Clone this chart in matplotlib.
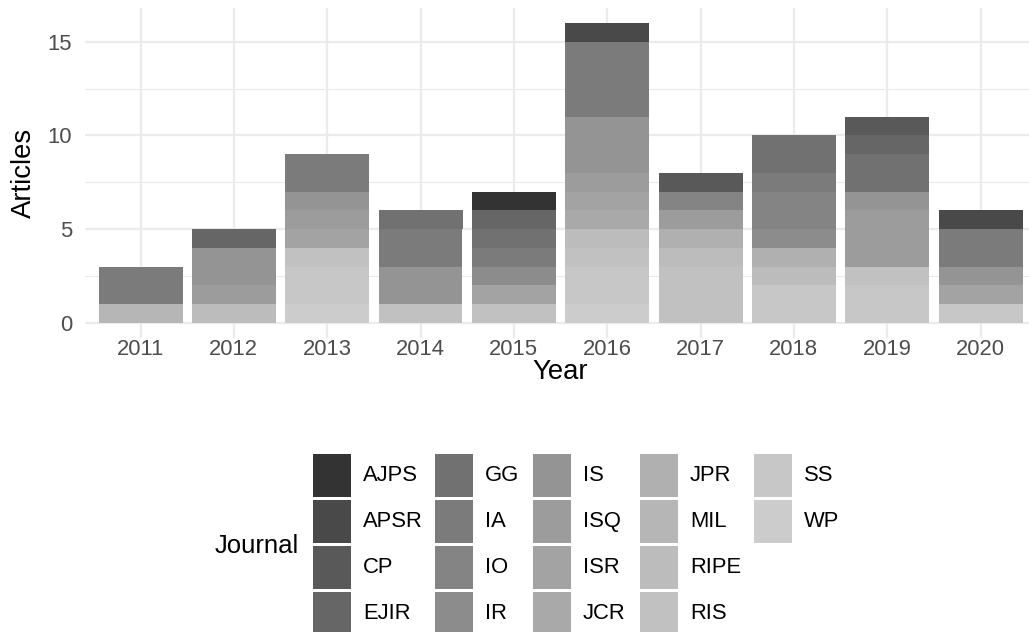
import numpy as np
import matplotlib
matplotlib.use("Agg")
import matplotlib.pyplot as plt
from matplotlib.patches import Rectangle

# ---- data ----
years = ["2011", "2012", "2013", "2014", "2015", "2016", "2017", "2018", "2019", "2020"]
journals = ["AJPS", "APSR", "CP", "EJIR", "GG", "IA", "IO", "IR", "IS", "ISQ",
            "ISR", "JCR", "JPR", "MIL", "RIPE", "RIS", "SS", "WP"]
AJPS = [0, 0, 0, 0, 1, 0, 0, 0, 0, 0]
APSR = [0, 0, 0, 0, 0, 1, 0, 0, 0, 1]
CP   = [0, 0, 0, 0, 0, 0, 1, 0, 1, 0]
EJIR = [0, 1, 0, 0, 1, 0, 0, 0, 1, 0]
GG   = [0, 0, 0, 1, 1, 0, 0, 2, 2, 0]
IA   = [2, 0, 2, 2, 1, 4, 0, 1, 0, 2]
IO   = [0, 0, 0, 0, 0, 0, 1, 2, 0, 0]
IR   = [0, 0, 0, 0, 1, 0, 0, 1, 0, 0]
IS   = [0, 2, 1, 2, 0, 3, 0, 0, 1, 1]
ISQ  = [0, 1, 1, 0, 0, 1, 1, 0, 3, 0]
ISR  = [0, 0, 1, 0, 1, 1, 0, 0, 0, 1]
JCR  = [0, 0, 0, 0, 0, 1, 0, 0, 0, 0]
JPR  = [0, 0, 0, 0, 0, 0, 1, 1, 0, 0]
MIL  = [1, 0, 0, 0, 0, 0, 0, 0, 0, 0]
RIPE = [0, 1, 0, 0, 0, 1, 1, 1, 0, 0]
RIS  = [0, 0, 1, 1, 1, 1, 3, 0, 1, 0]
SS   = [0, 0, 2, 0, 0, 2, 0, 2, 2, 1]
WP   = [0, 0, 1, 0, 0, 1, 0, 0, 0, 0]
counts = [AJPS, APSR, CP, EJIR, GG, IA, IO, IR, IS, ISQ, ISR, JCR, JPR, MIL, RIPE, RIS, SS, WP]
yticks = [0, 5, 10, 15]

# ---- style: ggplot scale_fill_grey(start=0.2, end=0.8) ----
g = 2.2
n = len(journals)
lv = np.linspace(0.2 ** g, 0.8 ** g, n) ** (1 / g)
colors = [(v, v, v) for v in lv]

W, H = 1029, 632
plt.rcParams['font.family'] = ['Liberation Sans', 'DejaVu Sans']
fig = plt.figure(figsize=(W / 100, H / 100), dpi=100)

def fx(x):
    return x / W

def fy(y):
    return 1 - y / H

left, right, top, bottom = 84.5, 1036.5, 8.0, 337.7
ax = fig.add_axes([fx(left), fy(bottom), fx(right - left), (bottom - top) / H])

xpos = np.arange(1, len(years) + 1)
base = np.zeros(len(years))
# ggplot stacks the first level on top: draw from last to first
for j in range(n - 1, -1, -1):
    vals = np.array(counts[j], dtype=float)
    mask = vals > 0
    ax.bar(xpos[mask], vals[mask], bottom=base[mask], width=0.9,
           color=colors[j], linewidth=0, zorder=3)
    base += vals

ax.set_xlim(0.4, len(years) + 0.6)
ax.set_ylim(-0.8, 16.8)
ax.set_xticks(xpos)
ax.set_xticklabels(years)
ax.set_yticks(yticks)
ax.set_yticks([2.5, 7.5, 12.5], minor=True)
ax.grid(which='major', color='#EBEBEB', linewidth=1.6, zorder=0)
ax.grid(which='minor', axis='y', color='#EBEBEB', linewidth=0.8, zorder=0)
for s in ax.spines.values():
    s.set_visible(False)
ax.tick_params(which='both', length=0, labelsize=15.8, labelcolor='#4D4D4D')
ax.tick_params(axis='x', pad=1.0)
ax.tick_params(axis='y', pad=8.9)
ax.set_axisbelow(True)

# axis titles
fig.text(fx(560.5), fy(379), "Year", fontsize=19.8, ha='center', va='baseline')
fig.text(fx(24), fy((top + bottom) / 2), "Articles", fontsize=19.8,
         rotation=90, ha='center', va='center')

# ---- legend (ggplot-like layout, filled by column, 4 rows) ----
key_x = [313, 435, 533, 640, 754]
row_y = [454, 500, 546, 592]
kw, kh = 38, 43
for i, name in enumerate(journals):
    c, r = divmod(i, 4)
    x0, y0 = key_x[c], row_y[r]
    fig.add_artist(Rectangle((fx(x0), fy(y0 + kh)), kw / W, kh / H,
                             transform=fig.transFigure, facecolor=colors[i],
                             edgecolor='none'))
    fig.text(fx(x0 + kw + 12), fy(y0 + kh / 2), name, fontsize=15.8,
             va='center', ha='left', color='black')
fig.text(fx(299), fy(546), "Journal", fontsize=18.5, va='center', ha='right')

fig.savefig("out.png", dpi=100)
